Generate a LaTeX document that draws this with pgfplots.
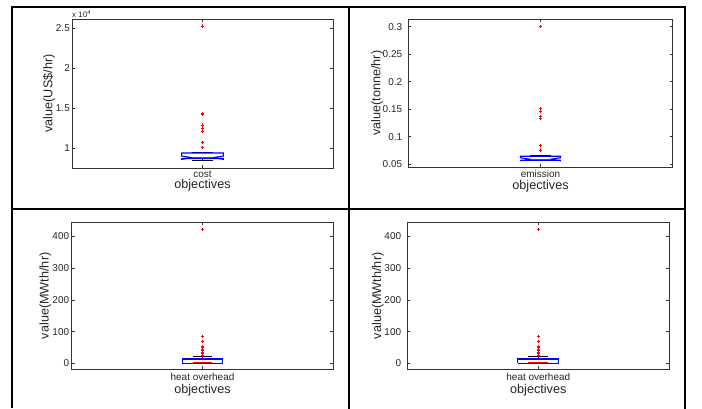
\documentclass[border=0pt]{standalone}
\usepackage{fontspec}
\setmainfont{Liberation Sans}
\usepackage{pgfplots}
\pgfplotsset{compat=1.18}

\definecolor{axgray}{gray}{0.2}
\definecolor{txtgray}{gray}{0.15}
\definecolor{boxblue}{RGB}{0,0,255}
\definecolor{medred}{RGB}{255,0,0}

\newcommand{\labfont}{\fontsize{12.7}{15}\selectfont}

\pgfplotsset{
  objbox/.style={
    scale only axis,
    xmin=0.5, xmax=1.5,
    xtick={1},
    scaled y ticks=false,
    tick align=inside,
    major tick length=3bp,
    axis line style={axgray, line width=0.7bp},
    every tick/.style={axgray, line width=0.6bp},
    tick label style={font=\fontsize{10}{12}\selectfont, text=txtgray},
    /pgf/number format/assume math mode=true,
    yticklabel style={anchor=east, inner sep=0pt},
    xticklabel style={anchor=north, inner sep=0pt},
    xlabel={objectives},
    every axis x label/.style={at={(axis description cs:0.5,0)}, anchor=north,
      inner sep=0pt, font=\labfont, text=txtgray},
    every axis y label/.style={rotate=90, anchor=center,
      inner sep=0pt, font=\labfont, text=txtgray},
    clip=false,
  },
  boxline/.style={draw=boxblue, line width=1.1bp, line join=miter},
  medline/.style={draw=medred, line width=1.1bp},
  whisk/.style={draw=black, line width=0.8bp, dash pattern=on 2bp off 1.5bp},
  capline/.style={draw=black, line width=0.9bp},
  outl/.style={only marks, mark=+, mark size=1.6bp, mark options={draw=medred, line width=0.7bp}},
}

\begin{document}
\begin{tikzpicture}
\path[use as bounding box] (0bp,0bp) rectangle (702bp,409bp);

% frame of the four cells
\draw[line width=2.6bp] (12bp,1bp) -- (12bp,402bp) -- (685bp,402bp) -- (685bp,0bp);
\draw[line width=2.6bp] (12bp,200bp) -- (685bp,200bp);
\draw[line width=2.6bp] (349bp,0bp) -- (349bp,402bp);

% ---------- cost ----------
\begin{axis}[objbox,
  at={(72bp,241bp)}, anchor=south west,
  width=261bp, height=149bp,
  ymin=7540, ymax=26160,
  ytick={10000,15000,20000,25000},
  yticklabels={1,1.5,2,2.5},
  xticklabels={cost},
  yticklabel style={xshift=-2bp},
  xticklabel style={yshift=-3bp},
  xlabel style={yshift=-11.5bp},
  ylabel={value(US\$/hr)},
  ylabel style={at={(axis description cs:-0.088,0.5)}},
]
% whiskers and caps
\addplot[whisk] coordinates {(1,9412) (1,9500)};
\addplot[whisk] coordinates {(1,8725) (1,8537)};
\addplot[capline] coordinates {(0.958,9500) (1.042,9500)};
\addplot[capline] coordinates {(0.958,8537) (1.042,8537)};
% notched box
\addplot[boxline] coordinates {(0.92,8725) (0.92,8613) (0.96,8825) (0.92,9037) (0.92,9412)
  (1.08,9412) (1.08,9037) (1.04,8825) (1.08,8613) (1.08,8725) (0.92,8725)};
\addplot[medline] coordinates {(0.96,8825) (1.04,8825)};
% outliers
\addplot[outl] coordinates {(1,25290) (1,14330) (1,14250) (1,12910) (1,12540) (1,12160) (1,10750) (1,10075)};
\node[anchor=base west, inner sep=0pt, font=\fontsize{8}{9}\selectfont, text=txtgray]
  at (rel axis cs:0,1) [yshift=1.7bp] {x 10\textsuperscript{4}};
\end{axis}

% ---------- emission ----------
\begin{axis}[objbox,
  at={(408.3bp,241.7bp)}, anchor=south west,
  width=264.4bp, height=148.3bp,
  ymin=0.0445, ymax=0.314,
  ytick={0.05,0.1,0.15,0.2,0.25,0.3},
  yticklabels={0.05,0.1,0.15,0.2,0.25,0.3},
  xticklabels={emission},
  yticklabel style={xshift=-6bp},
  xticklabel style={yshift=-3bp},
  xlabel style={yshift=-12.7bp},
  ylabel={value(tonne/hr)},
  ylabel style={at={(axis description cs:-0.118,0.5)}},
]
\addplot[whisk] coordinates {(1,0.0645) (1,0.0664)};
\addplot[whisk] coordinates {(1,0.0573) (1,0.0562)};
\addplot[capline] coordinates {(0.962,0.0664) (1.038,0.0664)};
\addplot[capline] coordinates {(0.962,0.0562) (1.038,0.0562)};
\addplot[boxline] coordinates {(0.924,0.0573) (0.924,0.0564) (0.962,0.0591) (0.924,0.0618) (0.924,0.0645)
  (1.076,0.0645) (1.076,0.0618) (1.038,0.0591) (1.076,0.0564) (1.076,0.0573) (0.924,0.0573)};
\addplot[medline] coordinates {(0.962,0.0591) (1.038,0.0591)};
\addplot[outl] coordinates {(1,0.301) (1,0.151) (1,0.146) (1,0.137) (1,0.134) (1,0.084) (1,0.076)};
\end{axis}

% ---------- heat overhead (left) ----------
\begin{axis}[objbox,
  at={(71.7bp,39.7bp)}, anchor=south west,
  width=261.6bp, height=147bp,
  ymin=-19, ymax=445,
  ytick={0,100,200,300,400},
  yticklabels={0,100,200,300,400},
  xticklabels={heat overhead},
  yticklabel style={xshift=-2.4bp},
  xticklabel style={yshift=-4bp},
  xlabel style={yshift=-14.7bp},
  ylabel={value(MWth/hr)},
  ylabel style={at={(axis description cs:-0.1005,0.5)}},
]
\addplot[whisk] coordinates {(1,13.6) (1,20.8)};
\addplot[capline] coordinates {(0.962,20.8) (1.038,20.8)};
\addplot[boxline] coordinates {(0.922,0) (0.922,13.6) (1.078,13.6) (1.078,0) (0.922,0)};
\addplot[medline] coordinates {(0.962,3.2) (1.038,3.2)};
\addplot[outl] coordinates {(1,423) (1,85) (1,68) (1,54) (1,50) (1,45) (1,41) (1,33) (1,30) (1,26)};
\end{axis}

% ---------- heat overhead (right) ----------
\begin{axis}[objbox,
  at={(407.3bp,39.7bp)}, anchor=south west,
  width=262bp, height=147bp,
  ymin=-19, ymax=445,
  ytick={0,100,200,300,400},
  yticklabels={0,100,200,300,400},
  xticklabels={heat overhead},
  yticklabel style={xshift=-6bp},
  xticklabel style={yshift=-4bp},
  xlabel style={yshift=-14.7bp},
  ylabel={value(MWth/hr)},
  ylabel style={at={(axis description cs:-0.112,0.5)}},
]
\addplot[whisk] coordinates {(1,13.6) (1,20.8)};
\addplot[capline] coordinates {(0.962,20.8) (1.038,20.8)};
\addplot[boxline] coordinates {(0.922,0) (0.922,13.6) (1.078,13.6) (1.078,0) (0.922,0)};
\addplot[medline] coordinates {(0.962,3.2) (1.038,3.2)};
\addplot[outl] coordinates {(1,423) (1,85) (1,68) (1,54) (1,50) (1,45) (1,41) (1,33) (1,30) (1,26)};
\end{axis}
\end{tikzpicture}
\end{document}
